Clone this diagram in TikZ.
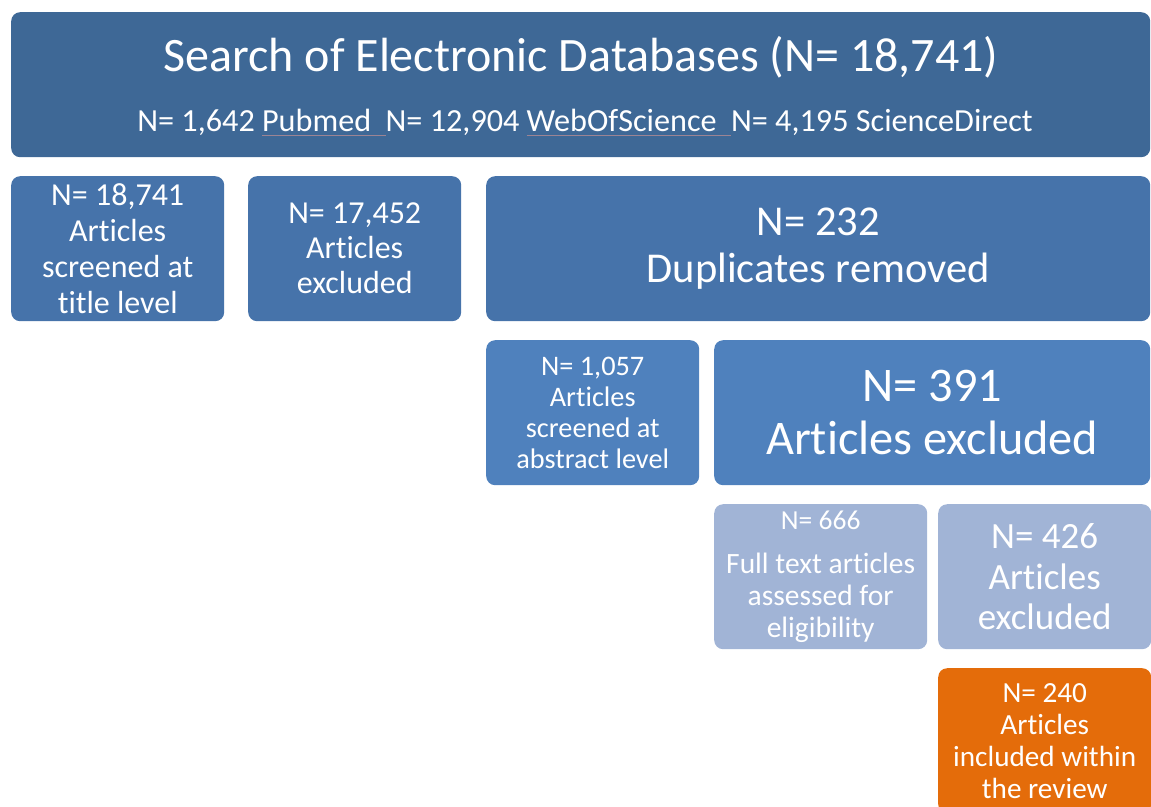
\documentclass[tikz,border=0pt]{standalone}
\usepackage{fontspec}
\setmainfont{Carlito}[Ligatures=NoCommon]
\usepackage{xcolor}
\definecolor{searchblue}{HTML}{3E6896}
\definecolor{titleblue}{HTML}{4673AA}
\definecolor{abstractblue}{HTML}{4F81BD}
\definecolor{fullblue}{HTML}{A1B4D6}
\definecolor{keptorange}{HTML}{E46C0A}
\definecolor{markline}{HTML}{9C8494}
\newcommand\dbname[1]{\setbox0\hbox{#1\hspace{0.45em}}\rlap{\textcolor{markline}{\rule[-4pt]{\wd0}{0.5pt}}}\box0}
\tikzset{
  stage/.style={rounded corners=9pt, text=white, align=center, inner sep=0pt,
    anchor=north west, minimum height=145pt},
  small/.style={stage, minimum width=213pt},
  lbl/.style={text=white, inner sep=0pt, align=center},
}

\begin{document}
\begin{tikzpicture}[x=1pt, y=-1pt]

  \clip (0,0) rectangle (1151,806);
  \useasboundingbox (0,0) rectangle (1151,806);

  % search
  \node[stage, fill=searchblue, minimum width=1139pt] (search) at (11,12) {};
  \node[lbl, font=\fontsize{48}{56}\selectfont] (searchT) at (581,57)
    {Search of Electronic Databases (N= 18,741)};
  \node[lbl, font=\fontsize{32.2}{36}\selectfont] (searchS) at (585,122)
    {N= 1,642 \dbname{Pubmed}N= 12,904 \dbname{WebOfScience}N= 4,195 ScienceDirect};

  % title screening
  \node[small, fill=titleblue, font=\fontsize{32}{36}\selectfont] (title) at (11,176)
    {N= 18,741\\Articles\\screened at\\title level};
  \node[small, fill=titleblue, font=\fontsize{32}{35}\selectfont] (titleX) at (248,176)
    {N= 17,452\\Articles\\excluded};
  \node[stage, fill=titleblue, minimum width=664pt, font=\fontsize{42.5}{47}\selectfont] (dupl) at (486,176)
    {N= 232\\Duplicates removed};

  % abstract screening
  \node[small, fill=abstractblue, font=\fontsize{28.3}{31}\selectfont] (abstract) at (486,340)
    {N= 1,057\\Articles\\screened at\\abstract level};
  \node[stage, fill=abstractblue, minimum width=436pt, font=\fontsize{48.3}{53}\selectfont] (abstractX) at (714,340)
    {N= 391\\Articles excluded};

  % full text
  \node[small, fill=fullblue, font=\fontsize{29.5}{32}\selectfont] (full) at (714,504)
    {{\fontsize{27.5}{28}\selectfont N= 666}\\[12pt]Full text articles\\assessed for\\eligibility};
  \node[small, fill=fullblue, font=\fontsize{37}{40.5}\selectfont] (fullX) at (938,504)
    {N= 426\\Articles\\excluded};

  % included
  \node[small, fill=keptorange, font=\fontsize{29.2}{32}\selectfont] (kept) at (938,668)
    {N= 240\\Articles\\included within\\the review};

\end{tikzpicture}
\end{document}
